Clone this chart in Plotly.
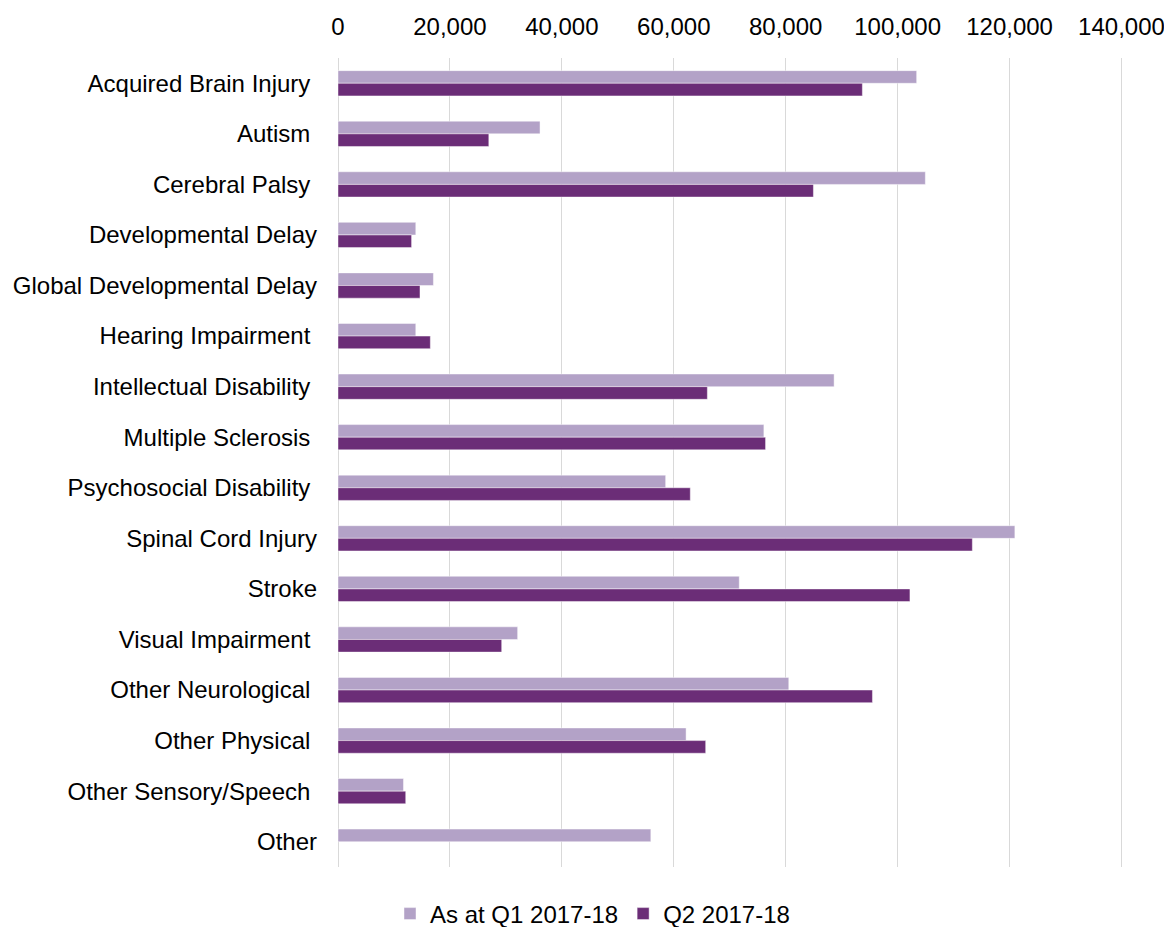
import plotly.graph_objects as go

categories = [
    "Acquired Brain Injury", "Autism", "Cerebral Palsy", "Developmental Delay",
    "Global Developmental Delay", "Hearing Impairment", "Intellectual Disability",
    "Multiple Sclerosis", "Psychosocial Disability", "Spinal Cord Injury", "Stroke",
    "Visual Impairment", "Other Neurological", "Other Physical",
    "Other Sensory/Speech", "Other",
]
# labels as shown on the axis (some carry a trailing space in the original)
tick_labels = [
    "Acquired Brain Injury\u00a0", "Autism\u00a0", "Cerebral Palsy\u00a0", "Developmental Delay",
    "Global Developmental Delay", "Hearing Impairment\u00a0", "Intellectual Disability\u00a0",
    "Multiple Sclerosis\u00a0", "Psychosocial Disability\u00a0", "Spinal Cord Injury", "Stroke",
    "Visual Impairment\u00a0", "Other Neurological\u00a0", "Other Physical\u00a0",
    "Other Sensory/Speech\u00a0", "Other",
]
q1_values = [103400, 36100, 104950, 13900, 17050, 13900, 88650, 76100,
             58550, 120950, 71700, 32100, 80550, 62200, 11700, 55900]
q2_values = [93700, 26950, 84950, 13150, 14650, 16500, 66000, 76400,
             62950, 113350, 102200, 29250, 95500, 65700, 12100, None]
series_names = ["As at Q1 2017-18", "Q2 2017-18"]
x_ticks = [0, 20000, 40000, 60000, 80000, 100000, 120000, 140000]

FONT = "Liberation Sans, Arial, sans-serif"
FS = 24
LIGHT = "#B3A2C7"
DARK = "#6B2D77"

fig = go.Figure()
fig.add_trace(go.Bar(
    y=categories, x=q1_values, name=series_names[0], orientation="h",
    marker=dict(color=LIGHT, line=dict(color="rgba(255,255,255,0.45)", width=1)),
))
fig.add_trace(go.Bar(
    y=categories, x=q2_values, name=series_names[1], orientation="h",
    marker=dict(color=DARK, line=dict(color="rgba(255,255,255,0.45)", width=1)),
))

fig.update_layout(
    width=1164, height=927,
    margin=dict(l=337.5, r=40, t=57.5, b=59.5, pad=0, autoexpand=False),
    paper_bgcolor="white", plot_bgcolor="white",
    barmode="group", bargap=0.5, bargroupgap=0,
    font=dict(family=FONT, size=FS, color="#000000"),
    showlegend=True,
    legend=dict(
        orientation="h", xref="container", yref="container",
        x=390 / 1164, xanchor="left", y=1 - 914 / 927, yanchor="middle",
        font=dict(family=FONT, size=FS, color="#000000"),
        traceorder="normal", itemclick=False, bgcolor="rgba(0,0,0,0)",
    ),
    xaxis=dict(
        side="top", range=[0, 140450], tickvals=x_ticks, tickformat=",",
        showgrid=True, gridcolor="#D9D9D9", gridwidth=1,
        zeroline=True, zerolinecolor="#D9D9D9", zerolinewidth=1,
        showline=False, ticks="", ticklabelstandoff=17, automargin=False,
        ticklabeloverflow="allow",
        tickfont=dict(family=FONT, size=FS, color="#000000"),
        fixedrange=True,
    ),
    yaxis=dict(
        autorange="reversed", tickvals=categories, ticktext=tick_labels,
        showgrid=False, zeroline=False, showline=False, ticks="",
        ticklabelstandoff=20, automargin=False,
        tickfont=dict(family=FONT, size=FS, color="#000000"),
        fixedrange=True,
    ),
)

fig.write_html(
    "out.html",
    config={"displayModeBar": False},
    post_script="document.body.style.margin='0';",
)
